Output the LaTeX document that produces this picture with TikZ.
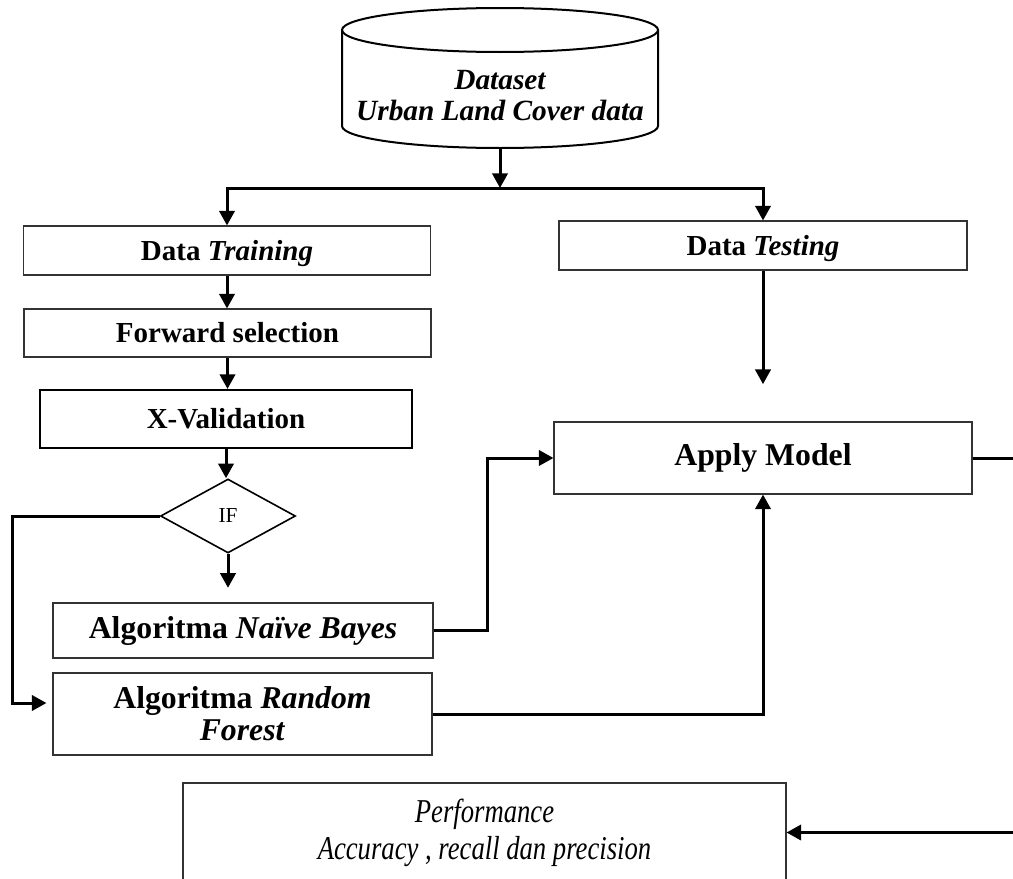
\documentclass[tikz,border=0pt]{standalone}
\usepackage{fontspec}
\setmainfont{Liberation Serif}
\newfontfamily\condserif[FakeStretch=0.8]{Liberation Serif}
\usetikzlibrary{arrows.meta,shapes.geometric,calc}
\begin{document}
\begin{tikzpicture}[x=0.75pt,y=-0.75pt,
  box/.style={draw=black!80,line width=0.8pt,inner sep=0pt,align=center},
  midf/.style={font=\fontsize{21.75}{26}\selectfont\bfseries},
  bigf/.style={font=\fontsize{23.8}{24}\selectfont\bfseries},
  arr/.style={line width=2.25pt,-{Triangle[length=11pt,width=11.5pt]}},
  plain/.style={line width=2.25pt}]
\clip (0,0) rectangle (1013,878);
\useasboundingbox (0,0) rectangle (1013,878);
% database cylinder
\draw[line width=1.5pt] (342,30) -- (342,126) arc[start angle=180,end angle=0,x radius=158,y radius=22] -- (658,30);
\draw[line width=1.5pt] (500,30) ellipse [x radius=158,y radius=22];
\node[align=center,font=\fontsize{22}{23.25}\selectfont\bfseries\itshape] (db) at (500,96) {Dataset\\Urban Land Cover data};
\coordinate (dbb) at (500,148);
\coordinate (split) at (500,188);
% boxes
\node[box,midf,text depth=0pt,minimum width=305.25pt,minimum height=36.75pt] (train) at (227,250.5) {Data \textit{Training}};
\node[box,midf,text depth=0pt,minimum width=306pt,minimum height=36.75pt] (test) at (763,245.5) {Data \textit{Testing}};
\node[box,midf,minimum width=305.25pt,minimum height=36pt] (fwd) at (227.5,333) {Forward selection};
\node[box,midf,line width=1.6pt,draw=black,minimum width=279pt,minimum height=43.5pt] (xval) at (226,419) {X-Validation};
\node[diamond,draw=black,line width=1.2pt,inner sep=0pt,aspect=1.82,minimum width=101.25pt,minimum height=55.5pt,font=\fontsize{16}{18}\selectfont] (if) at (228,516) {IF};
\node[box,bigf,minimum width=285pt,minimum height=41.25pt] (naive) at (243,630.5) {Algoritma \textit{Naïve Bayes}};
\node[box,bigf,minimum width=284.25pt,minimum height=61.5pt] (rf) at (242.5,714) {Algoritma \textit{Random}\\\textit{Forest}};
\node[box,bigf,minimum width=313.5pt,minimum height=54pt] (apply) at (763,458) {Apply Model};
\node[box,font=\condserif\fontsize{25}{27.75}\selectfont\itshape,minimum width=452.25pt,minimum height=74.25pt] (perf) at (484.5,832.5) {Performance\\Accuracy , recall dan precision};
% connectors
\draw[arr] (dbb) -- (split);
\draw[plain] (228,188) -- (764,188);
\draw[arr] (split) -| (train.north);
\draw[arr] (split) -| (test.north);
\draw[arr] (train.south) -- (train.south |- fwd.north);
\draw[arr] (fwd.south) -- (fwd.south |- xval.north);
\draw[arr] (xval.south) -- (xval.south |- if.north);
\draw[arr,shorten >=11pt] (if.south) -- (if.south |- naive.north);
\draw[arr,shorten >=28pt] (test.south) -- (test.south |- apply.north);
\draw[arr] (naive.east) -- ++(54,0) |- (apply.west);
\draw[arr] (rf.east) -| (apply.south);
\draw[arr] (apply.east) -- ++(60,0) |- (perf.east);
\draw[arr,shorten >=4.5pt] (if.west) -- ++(-147,0) |- ($(rf.west)+(0,-11)$);
\end{tikzpicture}
\end{document}
